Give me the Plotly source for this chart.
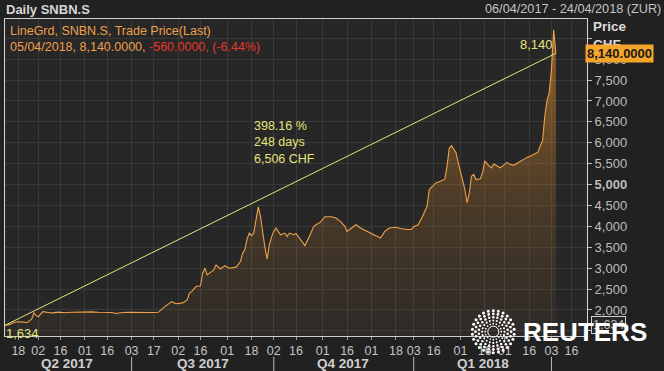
import numpy as np
import plotly.graph_objects as go

# ---------------- data ----------------
dates = [
    "2017-04-06", "2017-04-10", "2017-04-12", "2017-04-18", "2017-04-20", "2017-04-24",
    "2017-04-26", "2017-04-27", "2017-04-28", "2017-05-02", "2017-05-04", "2017-05-08",
    "2017-05-10", "2017-05-15", "2017-05-18", "2017-05-23", "2017-05-29", "2017-06-01",
    "2017-06-07", "2017-06-12", "2017-06-15", "2017-06-20", "2017-06-22", "2017-06-26",
    "2017-06-29", "2017-07-04", "2017-07-07", "2017-07-12", "2017-07-17", "2017-07-19",
    "2017-07-21", "2017-07-27", "2017-07-31", "2017-08-04", "2017-08-08", "2017-08-09",
    "2017-08-10", "2017-08-14", "2017-08-16", "2017-08-17", "2017-08-18", "2017-08-21",
    "2017-08-24", "2017-08-25", "2017-08-29", "2017-08-31", "2017-09-04", "2017-09-07",
    "2017-09-11", "2017-09-12", "2017-09-13", "2017-09-14", "2017-09-15", "2017-09-18",
    "2017-09-19", "2017-09-20", "2017-09-21", "2017-09-22", "2017-09-25", "2017-09-26",
    "2017-09-27", "2017-09-28", "2017-09-29", "2017-10-02", "2017-10-03", "2017-10-05",
    "2017-10-09", "2017-10-10", "2017-10-11", "2017-10-13", "2017-10-16", "2017-10-18",
    "2017-10-20", "2017-10-24", "2017-10-26", "2017-10-27", "2017-10-31", "2017-11-02",
    "2017-11-07", "2017-11-09", "2017-11-13", "2017-11-15", "2017-11-16", "2017-11-20",
    "2017-11-22", "2017-11-24", "2017-11-29", "2017-12-04", "2017-12-07", "2017-12-11",
    "2017-12-13", "2017-12-18", "2017-12-20", "2017-12-27", "2017-12-29", "2018-01-03",
    "2018-01-05", "2018-01-09", "2018-01-11", "2018-01-12", "2018-01-16", "2018-01-17",
    "2018-01-19", "2018-01-23", "2018-01-24", "2018-01-25", "2018-01-26", "2018-01-30",
    "2018-01-31", "2018-02-01", "2018-02-05", "2018-02-06", "2018-02-07", "2018-02-08",
    "2018-02-09", "2018-02-12", "2018-02-14", "2018-02-15", "2018-02-16", "2018-02-20",
    "2018-02-21", "2018-02-22", "2018-02-26", "2018-02-27", "2018-03-02", "2018-03-05",
    "2018-03-07", "2018-03-09", "2018-03-13", "2018-03-15", "2018-03-20", "2018-03-22",
    "2018-03-23", "2018-03-26", "2018-03-27", "2018-03-28", "2018-03-29", "2018-04-03",
    "2018-04-04", "2018-04-05",
]
prices = [
    1634, 1650, 1700, 1720, 1710, 1700,
    1780, 1930, 1870, 1840, 1960, 1940,
    1930, 1950, 1935, 1945, 1950, 1940,
    1955, 1945, 1950, 1940, 1915, 1935,
    1945, 1940, 1945, 1935, 1940, 1945,
    2040, 2200, 2150, 2170, 2240, 2400,
    2440, 2560, 2580, 2880, 3000, 2840,
    2960, 3080, 2980, 3060, 3000, 3025,
    3160, 3360, 3450, 3700, 3840, 3780,
    3840, 4160, 4470, 4240, 3850, 3500,
    3220, 3560, 3750, 3880, 3960, 3800,
    3840, 3760, 3840, 3800, 3830, 3680,
    3540, 3760, 4000, 4040, 4100, 4230,
    4230, 4200, 4120, 4000, 3880, 3960,
    4040, 3960, 3880, 3800, 3720, 3880,
    3960, 3980, 3950, 3925, 3925, 4000,
    4040, 4240, 4480, 4880, 5000, 5040,
    5080, 5130, 5440, 5870, 5930, 5770,
    5530, 5290, 4890, 4565, 4800, 5200,
    5245, 5120, 5140, 5290, 5565, 5440,
    5400, 5490, 5440, 5400, 5530, 5490,
    5460, 5530, 5600, 5650, 5720, 5780,
    5930, 6050, 6630, 7000, 7200, 7760,
    8700, 8140,
]

holidays = ["2017-04-14", "2017-04-17", "2017-05-01", "2017-05-25", "2017-06-05",
            "2017-08-01", "2017-12-25", "2017-12-26", "2018-01-01", "2018-01-02",
            "2018-03-30", "2018-04-02"]

tick_dates = ["2017-04-18", "2017-05-02", "2017-05-16", "2017-06-01", "2017-06-16",
              "2017-07-03", "2017-07-17", "2017-08-02", "2017-08-16", "2017-09-01",
              "2017-09-18", "2017-10-02", "2017-10-16", "2017-11-01", "2017-11-16",
              "2017-12-01", "2017-12-18", "2018-01-03", "2018-01-16", "2018-02-01",
              "2018-02-16", "2018-03-01", "2018-03-16", "2018-04-03", "2018-04-16"]
tick_text = ["18", "02", "16", "01", "16", "03", "17", "02", "16", "01", "18", "02", "16",
             "01", "16", "01", "18", "03", "16", "01", "16", "01", "16", "03", "16"]

quarter_labels = ["Q2 2017", "Q3 2017", "Q4 2017", "Q1 2018"]
quarter_centers = ["2017-05-19", "2017-08-17", "2017-11-14", "2018-02-15"]
quarter_starts = ["2017-07-03", "2017-10-02", "2018-01-03", "2018-04-03"]

y_ticks = [1500, 2000, 2500, 3000, 3500, 4000, 4500, 5000, 5500, 6000, 6500, 7000, 7500, 8000, 8500]

x_range = ["2017-04-06", "2018-04-25"]
y_range = [1378, 8960]

# ---------------- derived numbers ----------------
first, last, prev = prices[0], prices[-1], prices[-2]
pct = (last / first - 1) * 100
ndays = int(np.busday_count(dates[0], dates[-1], holidays=holidays))
diff = last - first
chg = last - prev
chg_pct = chg / prev * 100
last_date_txt = "/".join(reversed(dates[-1].split("-")))

ORANGE = "#eea04a"
YELLOW = "#e4e47a"
GRID = "#393939"
FONT = "Liberation Sans, Arial, sans-serif"

fig = go.Figure()
fig.add_trace(go.Scatter(
    x=dates, y=prices, mode="lines",
    line=dict(color=ORANGE, width=1.1),
    fill="tozeroy",
    fillgradient=dict(type="vertical", start=1400, stop=8800,
                      colorscale=[[0, "rgba(225,140,40,0.03)"],
                                  [0.4, "rgba(225,140,40,0.18)"],
                                  [1, "rgba(230,145,45,0.55)"]]),
    hoverinfo="skip",
))
fig.add_trace(go.Scatter(
    x=[dates[0], dates[-1]], y=[first, last], mode="lines",
    line=dict(color=YELLOW, width=1), hoverinfo="skip",
))

ticktext_y = []
for v in y_ticks:
    if v in (1500, 8500):
        ticktext_y.append("")
    elif v == 5000:
        ticktext_y.append("<b>{:,}</b>".format(v))
    else:
        ticktext_y.append("{:,}".format(v))

fig.update_layout(
    width=664, height=371,
    margin=dict(l=5, r=77, t=19, b=35),
    paper_bgcolor="#212121", plot_bgcolor="#272727",
    showlegend=False,
    font=dict(family=FONT, color="#c4c4c4", size=12),
    xaxis=dict(
        type="date", range=x_range,
        rangebreaks=[dict(bounds=["sat", "mon"]), dict(values=holidays)],
        tickmode="array", tickvals=tick_dates, ticktext=tick_text,
        tickfont=dict(size=12.5, color="#c4c4c4"),
        ticks="outside", ticklen=3, tickcolor="#9a9a9a",
        showgrid=True, gridcolor=GRID, gridwidth=1,
        showline=True, linecolor="#cfcfcf", linewidth=1, mirror=True,
        zeroline=False, fixedrange=True,
    ),
    yaxis=dict(
        side="right", range=y_range,
        tickmode="array", tickvals=y_ticks, ticktext=ticktext_y,
        tickfont=dict(size=13, color="#bdbdbd"),
        ticks="outside", ticklen=4, tickcolor="#bdbdbd",
        showgrid=True, gridcolor=GRID, gridwidth=1,
        showline=True, linecolor="#d8d8d8", linewidth=1, mirror=True,
        zeroline=False, fixedrange=True,
    ),
)

ann = []
# header
ann.append(dict(text="<b>Daily SNBN.S</b>", xref="paper", yref="paper", x=0, y=1,
                xanchor="left", yanchor="middle", xshift=-1, yshift=10,
                showarrow=False, font=dict(size=13, color="#d6d6d6")))
ann.append(dict(text="06/04/2017 - 24/04/2018 (ZUR)", xref="paper", yref="paper", x=1, y=1,
                xanchor="right", yanchor="middle", xshift=76, yshift=10,
                showarrow=False, font=dict(size=12.7, color="#c4c4c4")))
# legend text
legend_txt = ("LineGrd, SNBN.S, Trade Price(Last)<br>"
              "{}, {:,.4f}, <span style='color:#e8362c'>{:,.4f}, ({:.2f}%)</span>"
              ).format(last_date_txt, last, chg, chg_pct)
ann.append(dict(text=legend_txt, xref="paper", yref="paper", x=0, y=1,
                xanchor="left", yanchor="top", xshift=3, yshift=-3, align="left",
                showarrow=False, font=dict(size=12.5, color=ORANGE)))
# trend stats
stat_txt = "{:.2f} %<br>{} days<br>{:,} CHF".format(pct, ndays, diff)
ann.append(dict(text=stat_txt, x="2017-10-05", y=(first + last) / 2, xref="x", yref="y",
                xanchor="center", yanchor="bottom", yshift=21, xshift=4, align="left",
                showarrow=False, font=dict(size=12.5, color=YELLOW)))
ann.append(dict(text="{:,}".format(first), x=dates[0], y=first, xref="x", yref="y",
                xanchor="left", yanchor="top", xshift=-1, yshift=1,
                showarrow=False, font=dict(size=13, color=YELLOW)))
ann.append(dict(text="{:,}".format(last), x=dates[-1], y=last, xref="x", yref="y",
                xanchor="right", yanchor="bottom", xshift=-1, yshift=-1,
                showarrow=False, font=dict(size=13, color=YELLOW)))
# right axis title and tags
ann.append(dict(text="<b>Price<br>CHF</b>", xref="paper", yref="paper", x=1, y=1,
                xanchor="left", yanchor="top", xshift=4, yshift=2, align="left",
                showarrow=False, font=dict(size=13.5, color="#dcdcdc")))
ann.append(dict(text="{:,}".format(first), xref="paper", yref="y", x=1, y=first,
                xanchor="left", yanchor="middle", xshift=4,
                showarrow=False, bordercolor="#d0d0d0", borderwidth=1, borderpad=1,
                bgcolor="#272727", font=dict(size=12.5, color="#bdbdbd")))
ann.append(dict(text="<b>{:,.4f}</b>".format(last), xref="paper", yref="y", x=1, y=last,
                xanchor="left", yanchor="middle", xshift=-2,
                showarrow=False, bgcolor="#f4a52a", borderpad=1,
                font=dict(size=13, color="#1a1a1a")))
# quarter labels
for lab, c in zip(quarter_labels, quarter_centers):
    ann.append(dict(text="<b>{}</b>".format(lab), x=c, xref="x", yref="paper", y=-0.088,
                    xanchor="center", yanchor="middle", showarrow=False,
                    font=dict(size=13.5, color="#d0d0d0")))
# REUTERS wordmark
ann.append(dict(text="<b>REUTERS</b>", xref="paper", yref="paper", x=1, y=0,
                xanchor="left", yanchor="middle", xshift=-66, yshift=4,
                showarrow=False, font=dict(size=26, color="#ffffff",
                                           family="Liberation Sans, Arial, sans-serif")))

shapes = []
for q in quarter_starts:
    shapes.append(dict(type="line", xref="x", yref="paper", x0=q, x1=q, y0=-0.066, y1=-0.115,
                       line=dict(color="#bdbdbd", width=1)))

# Reuters dotted logo (decorative)
cx, cy = (493.3 - 5) / 582, (336 - 331.7) / 317
rings = [(8.0, 16, 1.7), (11.2, 20, 2.1), (14.5, 22, 2.5), (17.8, 24, 2.8), (21.0, 26, 3.0)]
for r, n, d in rings:
    for k in range(n):
        a = 2 * np.pi * k / n + (np.pi / n if n % 4 else 0)
        px, py = r * np.cos(a), r * np.sin(a)
        shapes.append(dict(type="circle", xref="paper", yref="paper",
                           xsizemode="pixel", ysizemode="pixel", xanchor=cx, yanchor=cy,
                           x0=px - d / 2, x1=px + d / 2, y0=py - d / 2, y1=py + d / 2,
                           fillcolor="#ffffff", line=dict(width=0), layer="above"))
shapes.append(dict(type="circle", xref="paper", yref="paper",
                   xsizemode="pixel", ysizemode="pixel", xanchor=cx, yanchor=cy,
                   x0=-5.5, x1=5.5, y0=-5.5, y1=5.5,
                   line=dict(color="#ffffff", width=1), layer="above"))

fig.update_layout(annotations=ann, shapes=shapes)
fig.write_html("out.html", config={"displayModeBar": False},
               post_script="document.body.style.margin='0';document.body.style.background='#212121';")
